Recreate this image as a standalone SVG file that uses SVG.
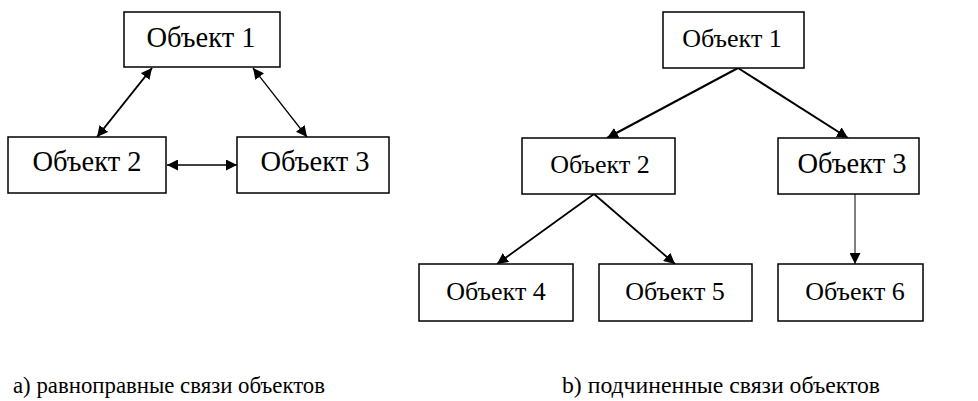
<svg xmlns="http://www.w3.org/2000/svg" width="978" height="401" viewBox="0 0 978 401">
<style>
.box{fill:#fff;stroke:#000;stroke-width:1.5}
.c{stroke:#000;fill:none}
.lbl{font-family:'Liberation Serif',serif;fill:#000;text-anchor:middle}
.big{font-size:28.5px}
.sm{font-size:26px}
.cap{font-family:'Liberation Serif',serif;font-size:24px;fill:#000}
</style>
<defs>
<marker id="ah" viewBox="0 0 10 10" refX="10" refY="5" markerWidth="11" markerHeight="11" markerUnits="userSpaceOnUse" orient="auto-start-reverse">
<path d="M0,0 L10,5 L0,10 z" fill="#000"/>
</marker>
</defs>
<g id="connectors">
<line class="c" x1="152" y1="68" x2="97" y2="137" stroke-width="2" marker-start="url(#ah)" marker-end="url(#ah)"/>
<line class="c" x1="253" y1="68" x2="307" y2="137" stroke-width="1.3" marker-start="url(#ah)" marker-end="url(#ah)"/>
<line class="c" x1="167" y1="165" x2="237" y2="165" stroke-width="1.5" marker-start="url(#ah)" marker-end="url(#ah)"/>
<line class="c" x1="738" y1="68" x2="607" y2="138" stroke-width="2" marker-end="url(#ah)"/>
<line class="c" x1="738" y1="68" x2="848" y2="138" stroke-width="2" marker-end="url(#ah)"/>
<line class="c" x1="594" y1="194" x2="497" y2="264" stroke-width="1.8" marker-end="url(#ah)"/>
<line class="c" x1="594" y1="194" x2="675" y2="264" stroke-width="1.8" marker-end="url(#ah)"/>
<line class="c" x1="855" y1="194" x2="855" y2="264" stroke-width="1" marker-end="url(#ah)"/>
</g>
<g id="a-obj1"><rect class="box" x="124" y="12" width="156" height="55"/><text class="lbl big" x="201" y="47">Объект 1</text></g>
<g id="a-obj2"><rect class="box" x="8" y="137" width="158" height="56"/><text class="lbl big" x="87" y="171">Объект 2</text></g>
<g id="a-obj3"><rect class="box" x="237" y="137" width="152" height="56"/><text class="lbl big" x="315" y="171">Объект 3</text></g>
<g id="b-obj1"><rect class="box" x="663" y="12" width="141" height="56"/><text class="lbl sm" x="732" y="47">Объект 1</text></g>
<g id="b-obj2"><rect class="box" x="522" y="138" width="153" height="56"/><text class="lbl sm" x="600" y="173">Объект 2</text></g>
<g id="b-obj3"><rect class="box" x="778" y="138" width="141" height="56"/><text class="lbl big" x="852" y="173">Объект 3</text></g>
<g id="b-obj4"><rect class="box" x="419" y="264" width="154" height="57"/><text class="lbl sm" x="496" y="300">Объект 4</text></g>
<g id="b-obj5"><rect class="box" x="599" y="264" width="153" height="57"/><text class="lbl sm" x="675" y="300">Объект 5</text></g>
<g id="b-obj6"><rect class="box" x="778" y="264" width="145" height="57"/><text class="lbl sm" x="855" y="300">Объект 6</text></g>
<g id="captions">
<text class="cap" x="13" y="393" textLength="312" lengthAdjust="spacingAndGlyphs">a) равноправные связи объектов</text>
<text class="cap" x="562" y="393" textLength="318" lengthAdjust="spacingAndGlyphs">b) подчиненные связи объектов</text>
</g>
</svg>
